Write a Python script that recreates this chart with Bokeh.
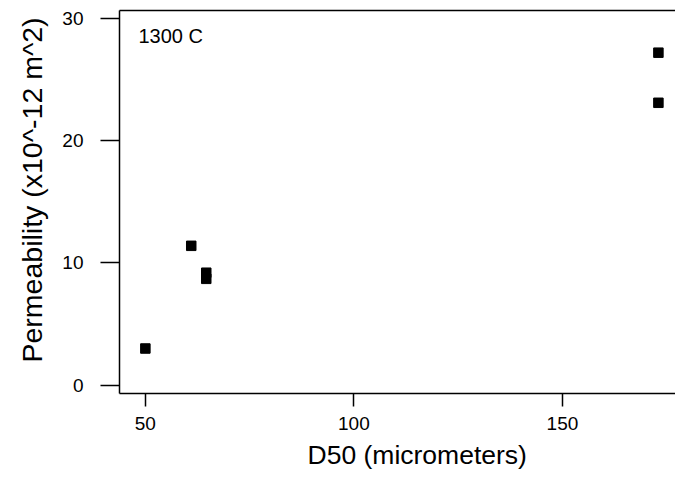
from bokeh.plotting import figure
from bokeh.models import Range1d, Label, FixedTicker, LinearAxis, Title
from bokeh.embed import file_html
from bokeh.resources import INLINE

# Data
d50 = [50, 61, 64.6, 64.6, 173, 173]
permeability = [3.0, 11.4, 9.2, 8.7, 27.2, 23.1]
x_ticks = [50, 100, 150]
y_ticks = [0, 10, 20, 30]
annotation = "1300 C"
x_title = "D50 (micrometers)"
y_title = "Permeability (x10^-12 m^2)"

FONT = "Liberation Sans"

p = figure(width=675, height=478, output_backend="svg", toolbar_location=None,
           x_range=Range1d(43.8, 177.1), y_range=Range1d(-0.68, 30.65),
           min_border_left=119, min_border_right=0, min_border_top=10,
           min_border_bottom=85)
p.background_fill_color = "white"
p.border_fill_color = "white"
p.grid.visible = False
p.outline_line_color = None

p.scatter(d50, permeability, marker="square", size=9.5, color="black")

p.xaxis.ticker = FixedTicker(ticks=x_ticks)
p.yaxis.ticker = FixedTicker(ticks=y_ticks)
for ax in (p.xaxis, p.yaxis):
    ax.axis_line_color = "black"
    ax.axis_line_width = 1.5
    ax.major_tick_line_color = "black"
    ax.major_tick_line_width = 1.5
    ax.minor_tick_line_color = None
    ax.major_tick_in = 0
    ax.major_label_text_font = FONT
    ax.major_label_text_font_size = "19px"
    ax.major_label_text_color = "black"

p.xaxis.major_tick_out = 13
p.xaxis.major_label_standoff = 10
p.yaxis.major_tick_out = 19
p.yaxis.major_label_standoff = 17

top = LinearAxis(ticker=FixedTicker(ticks=[]), axis_line_color="black",
                 axis_line_width=1.5, major_tick_line_color=None,
                 minor_tick_line_color=None, major_label_text_font_size="0px",
                 major_tick_out=0, major_tick_in=0, major_label_standoff=0)
p.add_layout(top, "above")

# axis titles (the original plot region extends past the right edge,
# so the titles sit off the visible frame's centre)
p.add_layout(Title(text=x_title, text_font=FONT, text_font_size="26.5px",
                   text_font_style="normal", text_color="black",
                   align="left", offset=188, standoff=11), "below")
p.add_layout(Title(text=y_title, text_font=FONT, text_font_size="28.5px",
                   text_font_style="normal", text_color="black",
                   align="left", offset=31, standoff=24), "left")

p.add_layout(Label(x=19, y=357.5, x_units="screen", y_units="screen",
                   text=annotation, text_font=FONT, text_font_size="20px",
                   text_color="black", text_baseline="middle"))

open("out.html", "w").write(file_html(p, INLINE))
